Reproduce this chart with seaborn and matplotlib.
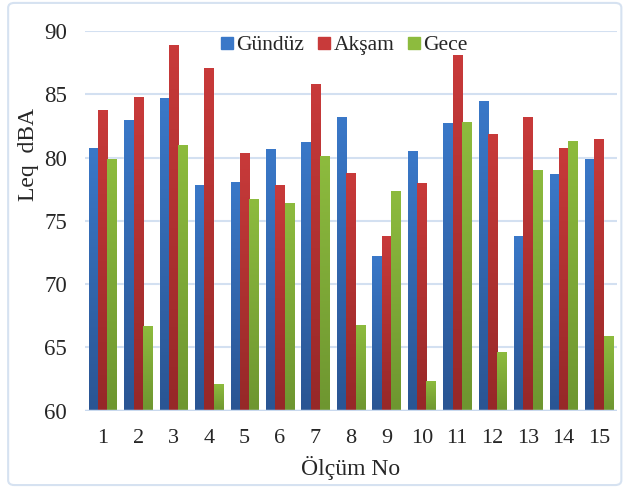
import numpy as np
import pandas as pd
import seaborn as sns
import matplotlib.pyplot as plt
from matplotlib.patches import FancyBboxPatch
from matplotlib.colors import LinearSegmentedColormap
from matplotlib.lines import Line2D

olcum = [str(i) for i in range(1, 16)]
gunduz = [80.8, 83.0, 84.7, 77.8, 78.1, 80.7, 81.2, 83.2, 72.2, 80.5, 82.7, 84.5, 73.8, 78.7, 79.9]
aksam = [83.8, 84.8, 88.9, 87.1, 80.4, 77.8, 85.8, 78.8, 73.8, 78.0, 88.1, 81.9, 83.2, 80.8, 81.5]
gece = [79.9, 66.7, 81.0, 62.1, 76.7, 76.4, 80.1, 66.8, 77.4, 62.3, 82.8, 64.6, 79.0, 81.3, 65.9]
donemler = ["Gündüz", "Akşam", "Gece"]

renk = {"Gündüz": "#3A78C8", "Akşam": "#C83A3A", "Gece": "#8DBB3E"}
koyu = {"Gündüz": "#2A5593", "Akşam": "#962828", "Gece": "#6E9630"}

df = pd.DataFrame({
    "Ölçüm No": olcum * 3,
    "Leq": gunduz + aksam + gece,
    "Dönem": ["Gündüz"] * 15 + ["Akşam"] * 15 + ["Gece"] * 15,
})

sns.set_style("white")
plt.rcParams["font.family"] = ["Liberation Serif", "DejaVu Serif"]

fig = plt.figure(figsize=(6.27, 4.87), dpi=100)
ax = fig.add_axes([0.1356, 0.157, 0.848, 0.779])

sns.barplot(data=df, x="Ölçüm No", y="Leq", hue="Dönem", hue_order=donemler,
            palette=renk, width=0.79, ax=ax, legend=False, zorder=2)

# dikey gradyan
for i, p in enumerate(ax.patches):
    d = donemler[i // 15]
    x0, y0 = p.get_x(), 60
    w, h = p.get_width(), p.get_y() + p.get_height()
    cmap = LinearSegmentedColormap.from_list("g", [koyu[d], renk[d]])
    grad = np.linspace(0, 1, 100).reshape(-1, 1)
    im = ax.imshow(grad, cmap=cmap, origin="lower", aspect="auto",
                   extent=[x0, x0 + w, y0, h], zorder=3)
    im.set_clip_path(p)
    p.set_edgecolor("white")
    p.set_linewidth(0.3)

ax.set_xlim(-0.5, 14.5)
ax.set_ylim(60, 90)
ax.set_yticks([60, 65, 70, 75, 80, 85, 90])
ax.grid(axis="y", color="#D3E0F1", lw=1.5, zorder=0)
ax.axhline(60, color="#C9D9EE", lw=2.5, zorder=4)
for s in ax.spines.values():
    s.set_visible(False)
ax.tick_params(axis="both", length=0, labelsize=16)
ax.tick_params(axis="x", pad=13)
ax.tick_params(axis="y", labelsize=16.5, pad=13)
ax.set_xlabel("Ölçüm No", fontsize=17, labelpad=6)
ax.set_ylabel("Leq  dBA", fontsize=17)
ax.yaxis.set_label_coords(-0.087, 0.675)

handles = [Line2D([], [], marker="s", ls="", markersize=9, color=renk[d]) for d in donemler]
ax.legend(handles, donemler, loc="upper center", bbox_to_anchor=(0.485, 1.012), ncol=3,
          frameon=False, fontsize=15.5, handletextpad=0.05, columnspacing=0.5,
          handlelength=0.8, borderaxespad=0)

fig.patches.append(FancyBboxPatch((0.013, 0.004), 0.978, 0.99, boxstyle="round,pad=0,rounding_size=0.01",
                                  transform=fig.transFigure, fc="none", ec="#D6E2F1", lw=1.5))

fig.savefig("out.png", dpi=100)
